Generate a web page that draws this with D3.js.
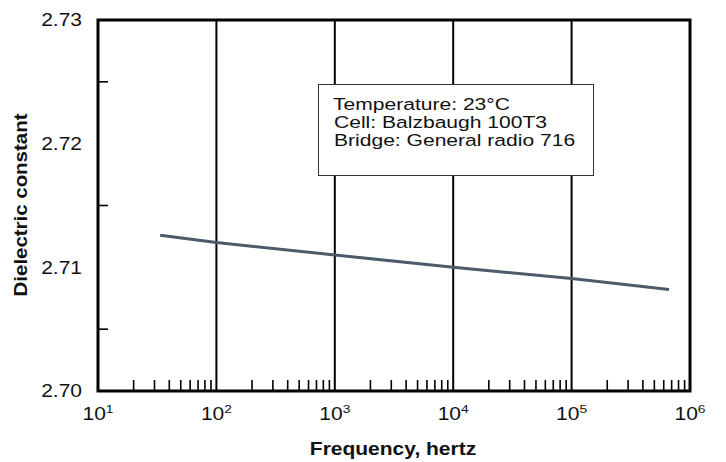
<!DOCTYPE html>
<html><head><meta charset="utf-8">
<script src="https://cdn.jsdelivr.net/npm/d3@7"></script>
<style>body{margin:0;background:#fff}text{font-family:"Liberation Sans",Arial,Helvetica,sans-serif}</style>
</head><body>
<svg id="c" width="726" height="462"></svg>
<script>
// Data
const freqHz = [33.5, 100, 1000, 10000, 100000, 665000];
const dielectric = [2.7126, 2.7120, 2.7110, 2.7100, 2.7091, 2.7082];
const xMajorExp = [1, 2, 3, 4, 5, 6];
const yTickValues = [2.70, 2.71, 2.72, 2.73];
const yMinorValues = [2.705, 2.715, 2.725];
const legendLines = ["Temperature: 23°C", "Cell: Balzbaugh 100T3", "Bridge: General radio 716"];

const svg = d3.select("#c");
const L = 98, R = 690, T = 20, B = 391;
const SX = 1.2, FS = 17.5;
const x = d3.scaleLog().domain([10, 1e6]).range([L, R]);
const y = d3.scaleLinear().domain([2.70, 2.73]).range([B, T]);

// vertical gridlines at decades
svg.append("g").selectAll("line").data(xMajorExp.slice(1, -1)).join("line")
  .attr("x1", d => x(Math.pow(10, d))).attr("x2", d => x(Math.pow(10, d)))
  .attr("y1", T).attr("y2", B).attr("stroke", "#000").attr("stroke-width", 2);

// minor x ticks
const minors = [];
for (let e = 1; e < 6; e++) for (let m = 2; m <= 9; m++) minors.push(m * Math.pow(10, e));
svg.append("g").selectAll("line").data(minors).join("line")
  .attr("x1", d => x(d)).attr("x2", d => x(d))
  .attr("y1", B).attr("y2", B - 11).attr("stroke", "#000").attr("stroke-width", 1.6);

// minor y ticks
svg.append("g").selectAll("line").data(yMinorValues).join("line")
  .attr("x1", L).attr("x2", L + 10).attr("y1", d => y(d)).attr("y2", d => y(d))
  .attr("stroke", "#000").attr("stroke-width", 1.6);

// frame
svg.append("rect").attr("x", L).attr("y", T).attr("width", R - L).attr("height", B - T)
  .attr("fill", "none").attr("stroke", "#000").attr("stroke-width", 3);

// y tick labels
svg.append("g").selectAll("text").data(yTickValues).join("text")
  .attr("transform", d => `translate(82,${y(d)}) scale(${SX},1)`).attr("dy", "0.36em")
  .attr("text-anchor", "end").attr("font-size", FS).attr("fill", "#111").text(d => d.toFixed(2));

// x tick labels
const xl = svg.append("g").selectAll("text").data(xMajorExp).join("text")
  .attr("transform", d => `translate(${x(Math.pow(10, d))},420) scale(${SX},1)`)
  .attr("text-anchor", "middle").attr("font-size", FS).attr("fill", "#111");
xl.append("tspan").text("10");
xl.append("tspan").attr("dy", -7).attr("font-size", 11.5).text(d => d);

// line
const line = d3.line().x((d, i) => x(freqHz[i])).y(d => y(d));
svg.append("path").datum(dielectric).attr("d", line)
  .attr("fill", "none").attr("stroke", "#4b5b6c").attr("stroke-width", 3);

// legend box
svg.append("rect").attr("x", 318.5).attr("y", 84.5).attr("width", 275).attr("height", 91)
  .attr("fill", "#fff").attr("stroke", "#333").attr("stroke-width", 1);
svg.append("g").selectAll("text").data(legendLines).join("text")
  .attr("transform", (d, i) => `translate(${i === 0 ? 333 : 334},${110.3 + i * 17.7}) scale(1.24,1)`)
  .attr("font-size", 17).attr("fill", "#111").text(d => d);

// axis titles
svg.append("text").attr("transform", `translate(393,454.5) scale(${SX},1)`).attr("text-anchor", "middle")
  .attr("font-size", FS).attr("font-weight", "bold").attr("fill", "#111").text("Frequency, hertz");
svg.append("text").attr("transform", `translate(26.7,205) rotate(-90) scale(1.094,1)`).attr("text-anchor", "middle")
  .attr("font-size", 18.7).attr("font-weight", "bold").attr("fill", "#111").text("Dielectric constant");
</script>
</body></html>
